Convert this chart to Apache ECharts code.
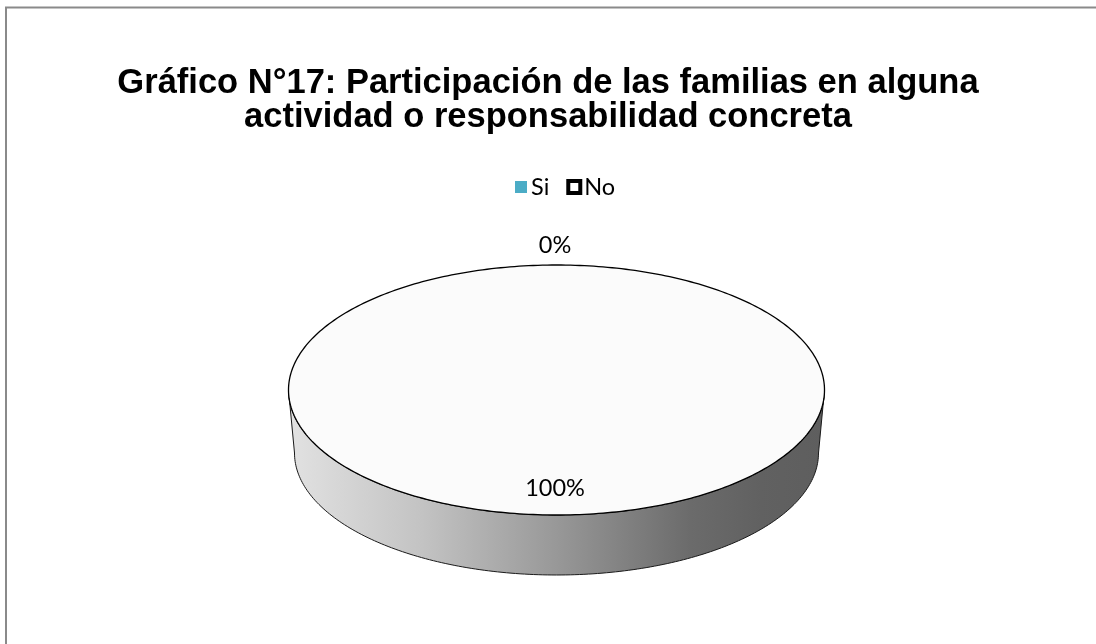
<!DOCTYPE html>
<html>
<head>
<meta charset="utf-8">
<script src="https://cdn.jsdelivr.net/npm/echarts@6/dist/echarts.min.js"></script>
<style>
  html, body { margin: 0; padding: 0; background: #fff; }
  #chart { width: 1096px; height: 644px; }
</style>
</head>
<body>
<div id="chart"></div>
<script>
// data
var categories = ['Si', 'No']
var values = [0, 100]
var sliceColors = ['#4BACC6', '#FBFBFB']

var titleText = 'Gráfico N°17: Participación de las familias en alguna\nactividad o responsabilidad concreta'

// 3d pie geometry (pixels)
var pie = {
  cx: 556.5, cy: 390, rx: 268, ry: 125,
  depth: 63, rx2: 262, ry2: 122
}

var total = values.reduce(function (a, b) { return a + b }, 0)

function topPt(t) {
  return [pie.cx + pie.rx * Math.sin(t), pie.cy - pie.ry * Math.cos(t)]
}
function botPt(t) {
  return [pie.cx + pie.rx2 * Math.sin(t), pie.cy + pie.depth - pie.ry2 * Math.cos(t)]
}
function arc(fn, a, b) {
  var pts = []
  var n = Math.max(2, Math.ceil(Math.abs(b - a) / (Math.PI / 180)))
  for (var k = 0; k <= n; k++) {
    pts.push(fn(a + (b - a) * k / n))
  }
  return pts
}

function renderSlice(params, api) {
  var idx = api.value(0)
  var val = api.value(1)
  var before = 0
  for (var j = 0; j < idx; j++) before += values[j]
  var a0 = before / total * Math.PI * 2
  var a1 = (before + val) / total * Math.PI * 2
  var children = []

  // side wall (front half only)
  var s = Math.max(a0, Math.PI / 2)
  var e = Math.min(a1, Math.PI * 1.5)
  if (e > s) {
    var pts = arc(topPt, s, e).concat(arc(botPt, e, s))
    children.push({
      type: 'polygon',
      shape: { points: pts },
      style: {
        fill: new echarts.graphic.LinearGradient(0, 0, 1, 0, [
          { offset: 0, color: '#e2e2e2' },
          { offset: 0.25, color: '#c3c3c3' },
          { offset: 0.5, color: '#989898' },
          { offset: 0.75, color: '#6b6b6b' },
          { offset: 0.88, color: '#616161' },
          { offset: 1, color: '#5e5e5e' }
        ]),
        stroke: '#1a1a1a',
        lineWidth: 1
      }
    })
  }

  // top face
  if (a1 > a0) {
    var face = arc(topPt, a0, a1)
    if (a1 - a0 < Math.PI * 2 - 1e-6) {
      face.unshift([pie.cx, pie.cy])
    }
    children.push({
      type: 'polygon',
      shape: { points: face },
      style: {
        fill: sliceColors[idx],
        stroke: '#000',
        lineWidth: 1.3
      }
    })
  }

  // percent label
  var mid = (a0 + a1) / 2
  var share = val / total
  var lx, ly
  if (share < 0.05) {
    lx = pie.cx + (pie.rx + 20) * Math.sin(mid)
    ly = pie.cy - (pie.ry + 20) * Math.cos(mid)
  } else {
    lx = pie.cx + pie.rx * 0.79 * Math.sin(mid)
    ly = pie.cy - pie.ry * 0.79 * Math.cos(mid)
  }
  children.push({
    type: 'text',
    x: lx - 1.5,
    y: ly,
    style: {
      text: Math.round(share * 100) + '%',
      fontFamily: 'Lato',
      fontSize: 23.5,
      fill: '#000',
      align: 'center',
      verticalAlign: 'middle'
    }
  })

  return { type: 'group', children: children }
}

var chartDom = document.getElementById('chart')
var myChart = echarts.init(chartDom)
var option

let seriesList = []
for (let i = 0; i < categories.length; i++) {
  seriesList.push({
    name: categories[i],
    type: 'custom',
    coordinateSystem: 'none',
    itemStyle: { color: sliceColors[i] },
    renderItem: renderSlice,
    data: [[i, values[i]]]
  })
}

option = {
  backgroundColor: '#fff',
  animation: false,
  title: {
    text: titleText,
    left: 'center',
    top: 61,
    textStyle: {
      fontFamily: 'Liberation Sans',
      fontWeight: 'bold',
      fontSize: 34.5,
      lineHeight: 34,
      color: '#000'
    }
  },
  legend: {
    left: 510,
    top: 170,
    itemWidth: 12,
    itemHeight: 12,
    itemGap: 17,
    textStyle: { fontFamily: 'Lato', fontSize: 23.5, color: '#000', padding: [0, 0, 0, -1] },
    data: [
      { name: categories[0], icon: 'rect', itemStyle: { color: '#4BACC6', borderWidth: 0 } },
      { name: categories[1], icon: 'rect', itemStyle: { color: '#fff', borderColor: '#000', borderWidth: 4 } }
    ]
  },
  graphic: [
    {
      type: 'rect',
      silent: true,
      shape: { x: 6, y: 7.5, width: 1200, height: 1000 },
      style: { fill: 'none', stroke: '#8a8a8a', lineWidth: 2 }
    }
  ],
  series: seriesList
}

option && myChart.setOption(option)
</script>
</body>
</html>
